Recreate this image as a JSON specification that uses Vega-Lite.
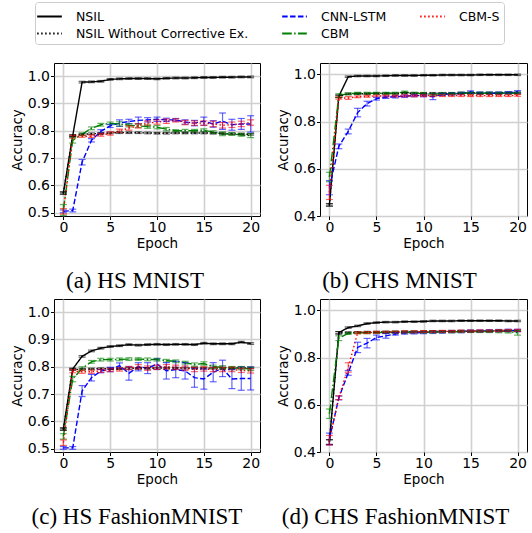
{
"$schema": "https://vega.github.io/schema/vega-lite/v6.json",
"padding": {"left": 9, "top": 1, "right": 0, "bottom": 0},
"config": {
  "view": {"stroke": "black", "strokeWidth": 1},
  "axis": {"domain": false, "tickColor": "black", "tickSize": 3.5, "labelFont": "DejaVu Sans", "labelFontSize": 14, "labelColor": "black", "labelPadding": 1, "titleFont": "DejaVu Sans", "titleFontSize": 13.5, "titleFontWeight": "normal", "titleColor": "black", "gridColor": "#d0d0d0", "gridWidth": 1.6},
  "axisX": {"titlePadding": 2},
  "axisY": {"titlePadding": 3},
  "title": {"font": "Liberation Serif", "fontSize": 23, "fontWeight": "normal", "color": "black", "orient": "bottom", "offset": 20}
},
"datasets": {"d": [
{"p":"a","m":"NSIL","e":0,"y":0.572,"s":0.004},{"p":"a","m":"NSIL","e":1,"y":0.782,"s":0.003},{"p":"a","m":"NSIL","e":2,"y":0.978,"s":0.003},{"p":"a","m":"NSIL","e":3,"y":0.979,"s":0.003},{"p":"a","m":"NSIL","e":4,"y":0.981,"s":0.003},{"p":"a","m":"NSIL","e":5,"y":0.988,"s":0.003},{"p":"a","m":"NSIL","e":6,"y":0.99,"s":0.003},{"p":"a","m":"NSIL","e":7,"y":0.991,"s":0.003},{"p":"a","m":"NSIL","e":8,"y":0.991,"s":0.003},{"p":"a","m":"NSIL","e":9,"y":0.991,"s":0.003},{"p":"a","m":"NSIL","e":10,"y":0.99,"s":0.003},{"p":"a","m":"NSIL","e":11,"y":0.992,"s":0.003},{"p":"a","m":"NSIL","e":12,"y":0.993,"s":0.003},{"p":"a","m":"NSIL","e":13,"y":0.993,"s":0.003},{"p":"a","m":"NSIL","e":14,"y":0.994,"s":0.003},{"p":"a","m":"NSIL","e":15,"y":0.995,"s":0.003},{"p":"a","m":"NSIL","e":16,"y":0.995,"s":0.003},{"p":"a","m":"NSIL","e":17,"y":0.996,"s":0.003},{"p":"a","m":"NSIL","e":18,"y":0.996,"s":0.003},{"p":"a","m":"NSIL","e":19,"y":0.997,"s":0.003},{"p":"a","m":"NSIL","e":20,"y":0.997,"s":0.003},
{"p":"a","m":"NSIL Without Corrective Ex.","e":0,"y":0.572,"s":0.004},{"p":"a","m":"NSIL Without Corrective Ex.","e":1,"y":0.782,"s":0.003},{"p":"a","m":"NSIL Without Corrective Ex.","e":2,"y":0.787,"s":0.003},{"p":"a","m":"NSIL Without Corrective Ex.","e":3,"y":0.789,"s":0.003},{"p":"a","m":"NSIL Without Corrective Ex.","e":4,"y":0.79,"s":0.003},{"p":"a","m":"NSIL Without Corrective Ex.","e":5,"y":0.792,"s":0.003},{"p":"a","m":"NSIL Without Corrective Ex.","e":6,"y":0.793,"s":0.003},{"p":"a","m":"NSIL Without Corrective Ex.","e":7,"y":0.793,"s":0.003},{"p":"a","m":"NSIL Without Corrective Ex.","e":8,"y":0.793,"s":0.003},{"p":"a","m":"NSIL Without Corrective Ex.","e":9,"y":0.792,"s":0.003},{"p":"a","m":"NSIL Without Corrective Ex.","e":10,"y":0.791,"s":0.003},{"p":"a","m":"NSIL Without Corrective Ex.","e":11,"y":0.791,"s":0.003},{"p":"a","m":"NSIL Without Corrective Ex.","e":12,"y":0.792,"s":0.003},{"p":"a","m":"NSIL Without Corrective Ex.","e":13,"y":0.792,"s":0.003},{"p":"a","m":"NSIL Without Corrective Ex.","e":14,"y":0.792,"s":0.003},{"p":"a","m":"NSIL Without Corrective Ex.","e":15,"y":0.792,"s":0.003},{"p":"a","m":"NSIL Without Corrective Ex.","e":16,"y":0.791,"s":0.003},{"p":"a","m":"NSIL Without Corrective Ex.","e":17,"y":0.79,"s":0.003},{"p":"a","m":"NSIL Without Corrective Ex.","e":18,"y":0.789,"s":0.003},{"p":"a","m":"NSIL Without Corrective Ex.","e":19,"y":0.788,"s":0.003},{"p":"a","m":"NSIL Without Corrective Ex.","e":20,"y":0.787,"s":0.003},
{"p":"a","m":"CNN-LSTM","e":0,"y":0.505,"s":0.005},{"p":"a","m":"CNN-LSTM","e":1,"y":0.508,"s":0.005},{"p":"a","m":"CNN-LSTM","e":2,"y":0.685,"s":0.01},{"p":"a","m":"CNN-LSTM","e":3,"y":0.765,"s":0.006},{"p":"a","m":"CNN-LSTM","e":4,"y":0.798,"s":0.006},{"p":"a","m":"CNN-LSTM","e":5,"y":0.818,"s":0.006},{"p":"a","m":"CNN-LSTM","e":6,"y":0.828,"s":0.012},{"p":"a","m":"CNN-LSTM","e":7,"y":0.834,"s":0.008},{"p":"a","m":"CNN-LSTM","e":8,"y":0.838,"s":0.012},{"p":"a","m":"CNN-LSTM","e":9,"y":0.84,"s":0.008},{"p":"a","m":"CNN-LSTM","e":10,"y":0.842,"s":0.008},{"p":"a","m":"CNN-LSTM","e":11,"y":0.84,"s":0.006},{"p":"a","m":"CNN-LSTM","e":12,"y":0.84,"s":0.005},{"p":"a","m":"CNN-LSTM","e":13,"y":0.832,"s":0.008},{"p":"a","m":"CNN-LSTM","e":14,"y":0.828,"s":0.01},{"p":"a","m":"CNN-LSTM","e":15,"y":0.835,"s":0.015},{"p":"a","m":"CNN-LSTM","e":16,"y":0.825,"s":0.012},{"p":"a","m":"CNN-LSTM","e":17,"y":0.835,"s":0.03},{"p":"a","m":"CNN-LSTM","e":18,"y":0.822,"s":0.02},{"p":"a","m":"CNN-LSTM","e":19,"y":0.825,"s":0.02},{"p":"a","m":"CNN-LSTM","e":20,"y":0.825,"s":0.03},
{"p":"a","m":"CBM","e":0,"y":0.51,"s":0.02},{"p":"a","m":"CBM","e":1,"y":0.765,"s":0.01},{"p":"a","m":"CBM","e":2,"y":0.787,"s":0.005},{"p":"a","m":"CBM","e":3,"y":0.809,"s":0.005},{"p":"a","m":"CBM","e":4,"y":0.822,"s":0.005},{"p":"a","m":"CBM","e":5,"y":0.827,"s":0.005},{"p":"a","m":"CBM","e":6,"y":0.825,"s":0.008},{"p":"a","m":"CBM","e":7,"y":0.82,"s":0.006},{"p":"a","m":"CBM","e":8,"y":0.818,"s":0.006},{"p":"a","m":"CBM","e":9,"y":0.815,"s":0.006},{"p":"a","m":"CBM","e":10,"y":0.813,"s":0.006},{"p":"a","m":"CBM","e":11,"y":0.806,"s":0.006},{"p":"a","m":"CBM","e":12,"y":0.8,"s":0.004},{"p":"a","m":"CBM","e":13,"y":0.8,"s":0.005},{"p":"a","m":"CBM","e":14,"y":0.8,"s":0.005},{"p":"a","m":"CBM","e":15,"y":0.802,"s":0.005},{"p":"a","m":"CBM","e":16,"y":0.795,"s":0.005},{"p":"a","m":"CBM","e":17,"y":0.789,"s":0.007},{"p":"a","m":"CBM","e":18,"y":0.788,"s":0.005},{"p":"a","m":"CBM","e":19,"y":0.785,"s":0.005},{"p":"a","m":"CBM","e":20,"y":0.782,"s":0.007},
{"p":"a","m":"CBM-S","e":0,"y":0.505,"s":0.01},{"p":"a","m":"CBM-S","e":1,"y":0.778,"s":0.005},{"p":"a","m":"CBM-S","e":2,"y":0.78,"s":0.004},{"p":"a","m":"CBM-S","e":3,"y":0.78,"s":0.005},{"p":"a","m":"CBM-S","e":4,"y":0.785,"s":0.005},{"p":"a","m":"CBM-S","e":5,"y":0.79,"s":0.006},{"p":"a","m":"CBM-S","e":6,"y":0.8,"s":0.006},{"p":"a","m":"CBM-S","e":7,"y":0.81,"s":0.008},{"p":"a","m":"CBM-S","e":8,"y":0.818,"s":0.008},{"p":"a","m":"CBM-S","e":9,"y":0.828,"s":0.008},{"p":"a","m":"CBM-S","e":10,"y":0.832,"s":0.008},{"p":"a","m":"CBM-S","e":11,"y":0.835,"s":0.008},{"p":"a","m":"CBM-S","e":12,"y":0.838,"s":0.006},{"p":"a","m":"CBM-S","e":13,"y":0.83,"s":0.008},{"p":"a","m":"CBM-S","e":14,"y":0.828,"s":0.008},{"p":"a","m":"CBM-S","e":15,"y":0.828,"s":0.008},{"p":"a","m":"CBM-S","e":16,"y":0.825,"s":0.01},{"p":"a","m":"CBM-S","e":17,"y":0.82,"s":0.01},{"p":"a","m":"CBM-S","e":18,"y":0.822,"s":0.01},{"p":"a","m":"CBM-S","e":19,"y":0.825,"s":0.01},{"p":"a","m":"CBM-S","e":20,"y":0.83,"s":0.01},
{"p":"b","m":"NSIL","e":0,"y":0.447,"s":0.005},{"p":"b","m":"NSIL","e":1,"y":0.907,"s":0.005},{"p":"b","m":"NSIL","e":2,"y":0.99,"s":0.003},{"p":"b","m":"NSIL","e":3,"y":0.993,"s":0.003},{"p":"b","m":"NSIL","e":4,"y":0.993,"s":0.003},{"p":"b","m":"NSIL","e":5,"y":0.993,"s":0.003},{"p":"b","m":"NSIL","e":6,"y":0.994,"s":0.003},{"p":"b","m":"NSIL","e":7,"y":0.995,"s":0.003},{"p":"b","m":"NSIL","e":8,"y":0.995,"s":0.003},{"p":"b","m":"NSIL","e":9,"y":0.995,"s":0.003},{"p":"b","m":"NSIL","e":10,"y":0.996,"s":0.003},{"p":"b","m":"NSIL","e":11,"y":0.996,"s":0.003},{"p":"b","m":"NSIL","e":12,"y":0.997,"s":0.003},{"p":"b","m":"NSIL","e":13,"y":0.997,"s":0.003},{"p":"b","m":"NSIL","e":14,"y":0.997,"s":0.003},{"p":"b","m":"NSIL","e":15,"y":0.997,"s":0.003},{"p":"b","m":"NSIL","e":16,"y":0.998,"s":0.003},{"p":"b","m":"NSIL","e":17,"y":0.998,"s":0.003},{"p":"b","m":"NSIL","e":18,"y":0.998,"s":0.003},{"p":"b","m":"NSIL","e":19,"y":0.998,"s":0.003},{"p":"b","m":"NSIL","e":20,"y":0.998,"s":0.003},
{"p":"b","m":"NSIL Without Corrective Ex.","e":0,"y":0.447,"s":0.005},{"p":"b","m":"NSIL Without Corrective Ex.","e":1,"y":0.907,"s":0.005},{"p":"b","m":"NSIL Without Corrective Ex.","e":2,"y":0.917,"s":0.003},{"p":"b","m":"NSIL Without Corrective Ex.","e":3,"y":0.918,"s":0.003},{"p":"b","m":"NSIL Without Corrective Ex.","e":4,"y":0.918,"s":0.003},{"p":"b","m":"NSIL Without Corrective Ex.","e":5,"y":0.919,"s":0.003},{"p":"b","m":"NSIL Without Corrective Ex.","e":6,"y":0.919,"s":0.003},{"p":"b","m":"NSIL Without Corrective Ex.","e":7,"y":0.919,"s":0.003},{"p":"b","m":"NSIL Without Corrective Ex.","e":8,"y":0.92,"s":0.003},{"p":"b","m":"NSIL Without Corrective Ex.","e":9,"y":0.92,"s":0.003},{"p":"b","m":"NSIL Without Corrective Ex.","e":10,"y":0.92,"s":0.003},{"p":"b","m":"NSIL Without Corrective Ex.","e":11,"y":0.92,"s":0.003},{"p":"b","m":"NSIL Without Corrective Ex.","e":12,"y":0.92,"s":0.003},{"p":"b","m":"NSIL Without Corrective Ex.","e":13,"y":0.92,"s":0.003},{"p":"b","m":"NSIL Without Corrective Ex.","e":14,"y":0.921,"s":0.003},{"p":"b","m":"NSIL Without Corrective Ex.","e":15,"y":0.921,"s":0.003},{"p":"b","m":"NSIL Without Corrective Ex.","e":16,"y":0.921,"s":0.003},{"p":"b","m":"NSIL Without Corrective Ex.","e":17,"y":0.921,"s":0.003},{"p":"b","m":"NSIL Without Corrective Ex.","e":18,"y":0.921,"s":0.003},{"p":"b","m":"NSIL Without Corrective Ex.","e":19,"y":0.922,"s":0.003},{"p":"b","m":"NSIL Without Corrective Ex.","e":20,"y":0.922,"s":0.003},
{"p":"b","m":"CNN-LSTM","e":0,"y":0.52,"s":0.03},{"p":"b","m":"CNN-LSTM","e":1,"y":0.695,"s":0.01},{"p":"b","m":"CNN-LSTM","e":2,"y":0.758,"s":0.01},{"p":"b","m":"CNN-LSTM","e":3,"y":0.838,"s":0.018},{"p":"b","m":"CNN-LSTM","e":4,"y":0.876,"s":0.01},{"p":"b","m":"CNN-LSTM","e":5,"y":0.897,"s":0.006},{"p":"b","m":"CNN-LSTM","e":6,"y":0.903,"s":0.005},{"p":"b","m":"CNN-LSTM","e":7,"y":0.905,"s":0.005},{"p":"b","m":"CNN-LSTM","e":8,"y":0.907,"s":0.005},{"p":"b","m":"CNN-LSTM","e":9,"y":0.91,"s":0.005},{"p":"b","m":"CNN-LSTM","e":10,"y":0.91,"s":0.005},{"p":"b","m":"CNN-LSTM","e":11,"y":0.905,"s":0.012},{"p":"b","m":"CNN-LSTM","e":12,"y":0.915,"s":0.005},{"p":"b","m":"CNN-LSTM","e":13,"y":0.917,"s":0.005},{"p":"b","m":"CNN-LSTM","e":14,"y":0.919,"s":0.005},{"p":"b","m":"CNN-LSTM","e":15,"y":0.925,"s":0.005},{"p":"b","m":"CNN-LSTM","e":16,"y":0.92,"s":0.005},{"p":"b","m":"CNN-LSTM","e":17,"y":0.92,"s":0.005},{"p":"b","m":"CNN-LSTM","e":18,"y":0.92,"s":0.005},{"p":"b","m":"CNN-LSTM","e":19,"y":0.922,"s":0.005},{"p":"b","m":"CNN-LSTM","e":20,"y":0.926,"s":0.005},
{"p":"b","m":"CBM","e":0,"y":0.565,"s":0.02},{"p":"b","m":"CBM","e":1,"y":0.91,"s":0.008},{"p":"b","m":"CBM","e":2,"y":0.918,"s":0.004},{"p":"b","m":"CBM","e":3,"y":0.92,"s":0.004},{"p":"b","m":"CBM","e":4,"y":0.92,"s":0.004},{"p":"b","m":"CBM","e":5,"y":0.92,"s":0.004},{"p":"b","m":"CBM","e":6,"y":0.92,"s":0.004},{"p":"b","m":"CBM","e":7,"y":0.92,"s":0.004},{"p":"b","m":"CBM","e":8,"y":0.925,"s":0.004},{"p":"b","m":"CBM","e":9,"y":0.92,"s":0.004},{"p":"b","m":"CBM","e":10,"y":0.918,"s":0.004},{"p":"b","m":"CBM","e":11,"y":0.915,"s":0.004},{"p":"b","m":"CBM","e":12,"y":0.918,"s":0.004},{"p":"b","m":"CBM","e":13,"y":0.918,"s":0.004},{"p":"b","m":"CBM","e":14,"y":0.92,"s":0.004},{"p":"b","m":"CBM","e":15,"y":0.92,"s":0.004},{"p":"b","m":"CBM","e":16,"y":0.92,"s":0.004},{"p":"b","m":"CBM","e":17,"y":0.92,"s":0.004},{"p":"b","m":"CBM","e":18,"y":0.92,"s":0.004},{"p":"b","m":"CBM","e":19,"y":0.92,"s":0.004},{"p":"b","m":"CBM","e":20,"y":0.92,"s":0.004},
{"p":"b","m":"CBM-S","e":0,"y":0.5,"s":0.03},{"p":"b","m":"CBM-S","e":1,"y":0.9,"s":0.005},{"p":"b","m":"CBM-S","e":2,"y":0.9,"s":0.006},{"p":"b","m":"CBM-S","e":3,"y":0.905,"s":0.004},{"p":"b","m":"CBM-S","e":4,"y":0.907,"s":0.004},{"p":"b","m":"CBM-S","e":5,"y":0.908,"s":0.004},{"p":"b","m":"CBM-S","e":6,"y":0.908,"s":0.004},{"p":"b","m":"CBM-S","e":7,"y":0.908,"s":0.004},{"p":"b","m":"CBM-S","e":8,"y":0.909,"s":0.004},{"p":"b","m":"CBM-S","e":9,"y":0.909,"s":0.004},{"p":"b","m":"CBM-S","e":10,"y":0.91,"s":0.004},{"p":"b","m":"CBM-S","e":11,"y":0.91,"s":0.004},{"p":"b","m":"CBM-S","e":12,"y":0.91,"s":0.004},{"p":"b","m":"CBM-S","e":13,"y":0.91,"s":0.004},{"p":"b","m":"CBM-S","e":14,"y":0.91,"s":0.004},{"p":"b","m":"CBM-S","e":15,"y":0.91,"s":0.004},{"p":"b","m":"CBM-S","e":16,"y":0.91,"s":0.004},{"p":"b","m":"CBM-S","e":17,"y":0.91,"s":0.004},{"p":"b","m":"CBM-S","e":18,"y":0.91,"s":0.004},{"p":"b","m":"CBM-S","e":19,"y":0.91,"s":0.004},{"p":"b","m":"CBM-S","e":20,"y":0.911,"s":0.004},
{"p":"c","m":"NSIL","e":0,"y":0.572,"s":0.004},{"p":"c","m":"NSIL","e":1,"y":0.792,"s":0.003},{"p":"c","m":"NSIL","e":2,"y":0.838,"s":0.003},{"p":"c","m":"NSIL","e":3,"y":0.858,"s":0.003},{"p":"c","m":"NSIL","e":4,"y":0.868,"s":0.003},{"p":"c","m":"NSIL","e":5,"y":0.874,"s":0.003},{"p":"c","m":"NSIL","e":6,"y":0.877,"s":0.003},{"p":"c","m":"NSIL","e":7,"y":0.881,"s":0.003},{"p":"c","m":"NSIL","e":8,"y":0.879,"s":0.003},{"p":"c","m":"NSIL","e":9,"y":0.881,"s":0.003},{"p":"c","m":"NSIL","e":10,"y":0.882,"s":0.003},{"p":"c","m":"NSIL","e":11,"y":0.881,"s":0.003},{"p":"c","m":"NSIL","e":12,"y":0.882,"s":0.003},{"p":"c","m":"NSIL","e":13,"y":0.882,"s":0.003},{"p":"c","m":"NSIL","e":14,"y":0.881,"s":0.003},{"p":"c","m":"NSIL","e":15,"y":0.886,"s":0.003},{"p":"c","m":"NSIL","e":16,"y":0.884,"s":0.003},{"p":"c","m":"NSIL","e":17,"y":0.884,"s":0.003},{"p":"c","m":"NSIL","e":18,"y":0.884,"s":0.003},{"p":"c","m":"NSIL","e":19,"y":0.89,"s":0.003},{"p":"c","m":"NSIL","e":20,"y":0.885,"s":0.003},
{"p":"c","m":"NSIL Without Corrective Ex.","e":0,"y":0.572,"s":0.004},{"p":"c","m":"NSIL Without Corrective Ex.","e":1,"y":0.79,"s":0.003},{"p":"c","m":"NSIL Without Corrective Ex.","e":2,"y":0.791,"s":0.003},{"p":"c","m":"NSIL Without Corrective Ex.","e":3,"y":0.792,"s":0.003},{"p":"c","m":"NSIL Without Corrective Ex.","e":4,"y":0.793,"s":0.003},{"p":"c","m":"NSIL Without Corrective Ex.","e":5,"y":0.793,"s":0.003},{"p":"c","m":"NSIL Without Corrective Ex.","e":6,"y":0.793,"s":0.003},{"p":"c","m":"NSIL Without Corrective Ex.","e":7,"y":0.794,"s":0.003},{"p":"c","m":"NSIL Without Corrective Ex.","e":8,"y":0.794,"s":0.003},{"p":"c","m":"NSIL Without Corrective Ex.","e":9,"y":0.794,"s":0.003},{"p":"c","m":"NSIL Without Corrective Ex.","e":10,"y":0.795,"s":0.003},{"p":"c","m":"NSIL Without Corrective Ex.","e":11,"y":0.795,"s":0.003},{"p":"c","m":"NSIL Without Corrective Ex.","e":12,"y":0.795,"s":0.003},{"p":"c","m":"NSIL Without Corrective Ex.","e":13,"y":0.795,"s":0.003},{"p":"c","m":"NSIL Without Corrective Ex.","e":14,"y":0.795,"s":0.003},{"p":"c","m":"NSIL Without Corrective Ex.","e":15,"y":0.795,"s":0.003},{"p":"c","m":"NSIL Without Corrective Ex.","e":16,"y":0.795,"s":0.003},{"p":"c","m":"NSIL Without Corrective Ex.","e":17,"y":0.795,"s":0.003},{"p":"c","m":"NSIL Without Corrective Ex.","e":18,"y":0.796,"s":0.003},{"p":"c","m":"NSIL Without Corrective Ex.","e":19,"y":0.796,"s":0.003},{"p":"c","m":"NSIL Without Corrective Ex.","e":20,"y":0.796,"s":0.003},
{"p":"c","m":"CNN-LSTM","e":0,"y":0.503,"s":0.005},{"p":"c","m":"CNN-LSTM","e":1,"y":0.503,"s":0.005},{"p":"c","m":"CNN-LSTM","e":2,"y":0.711,"s":0.02},{"p":"c","m":"CNN-LSTM","e":3,"y":0.76,"s":0.012},{"p":"c","m":"CNN-LSTM","e":4,"y":0.784,"s":0.006},{"p":"c","m":"CNN-LSTM","e":5,"y":0.79,"s":0.008},{"p":"c","m":"CNN-LSTM","e":6,"y":0.804,"s":0.01},{"p":"c","m":"CNN-LSTM","e":7,"y":0.776,"s":0.025},{"p":"c","m":"CNN-LSTM","e":8,"y":0.8,"s":0.015},{"p":"c","m":"CNN-LSTM","e":9,"y":0.795,"s":0.02},{"p":"c","m":"CNN-LSTM","e":10,"y":0.81,"s":0.02},{"p":"c","m":"CNN-LSTM","e":11,"y":0.785,"s":0.03},{"p":"c","m":"CNN-LSTM","e":12,"y":0.79,"s":0.03},{"p":"c","m":"CNN-LSTM","e":13,"y":0.785,"s":0.03},{"p":"c","m":"CNN-LSTM","e":14,"y":0.76,"s":0.035},{"p":"c","m":"CNN-LSTM","e":15,"y":0.755,"s":0.037},{"p":"c","m":"CNN-LSTM","e":16,"y":0.78,"s":0.035},{"p":"c","m":"CNN-LSTM","e":17,"y":0.794,"s":0.03},{"p":"c","m":"CNN-LSTM","e":18,"y":0.755,"s":0.035},{"p":"c","m":"CNN-LSTM","e":19,"y":0.757,"s":0.043},{"p":"c","m":"CNN-LSTM","e":20,"y":0.757,"s":0.042},
{"p":"c","m":"CBM","e":0,"y":0.545,"s":0.01},{"p":"c","m":"CBM","e":1,"y":0.755,"s":0.01},{"p":"c","m":"CBM","e":2,"y":0.794,"s":0.006},{"p":"c","m":"CBM","e":3,"y":0.818,"s":0.005},{"p":"c","m":"CBM","e":4,"y":0.826,"s":0.005},{"p":"c","m":"CBM","e":5,"y":0.826,"s":0.005},{"p":"c","m":"CBM","e":6,"y":0.827,"s":0.005},{"p":"c","m":"CBM","e":7,"y":0.828,"s":0.005},{"p":"c","m":"CBM","e":8,"y":0.828,"s":0.005},{"p":"c","m":"CBM","e":9,"y":0.827,"s":0.005},{"p":"c","m":"CBM","e":10,"y":0.826,"s":0.005},{"p":"c","m":"CBM","e":11,"y":0.822,"s":0.005},{"p":"c","m":"CBM","e":12,"y":0.82,"s":0.005},{"p":"c","m":"CBM","e":13,"y":0.815,"s":0.005},{"p":"c","m":"CBM","e":14,"y":0.808,"s":0.006},{"p":"c","m":"CBM","e":15,"y":0.812,"s":0.006},{"p":"c","m":"CBM","e":16,"y":0.8,"s":0.006},{"p":"c","m":"CBM","e":17,"y":0.798,"s":0.006},{"p":"c","m":"CBM","e":18,"y":0.795,"s":0.006},{"p":"c","m":"CBM","e":19,"y":0.795,"s":0.006},{"p":"c","m":"CBM","e":20,"y":0.792,"s":0.006},
{"p":"c","m":"CBM-S","e":0,"y":0.522,"s":0.01},{"p":"c","m":"CBM-S","e":1,"y":0.784,"s":0.006},{"p":"c","m":"CBM-S","e":2,"y":0.782,"s":0.006},{"p":"c","m":"CBM-S","e":3,"y":0.782,"s":0.006},{"p":"c","m":"CBM-S","e":4,"y":0.785,"s":0.006},{"p":"c","m":"CBM-S","e":5,"y":0.788,"s":0.006},{"p":"c","m":"CBM-S","e":6,"y":0.79,"s":0.006},{"p":"c","m":"CBM-S","e":7,"y":0.795,"s":0.006},{"p":"c","m":"CBM-S","e":8,"y":0.8,"s":0.008},{"p":"c","m":"CBM-S","e":9,"y":0.795,"s":0.008},{"p":"c","m":"CBM-S","e":10,"y":0.798,"s":0.008},{"p":"c","m":"CBM-S","e":11,"y":0.8,"s":0.008},{"p":"c","m":"CBM-S","e":12,"y":0.798,"s":0.008},{"p":"c","m":"CBM-S","e":13,"y":0.795,"s":0.008},{"p":"c","m":"CBM-S","e":14,"y":0.79,"s":0.008},{"p":"c","m":"CBM-S","e":15,"y":0.792,"s":0.008},{"p":"c","m":"CBM-S","e":16,"y":0.79,"s":0.008},{"p":"c","m":"CBM-S","e":17,"y":0.79,"s":0.008},{"p":"c","m":"CBM-S","e":18,"y":0.79,"s":0.008},{"p":"c","m":"CBM-S","e":19,"y":0.787,"s":0.008},{"p":"c","m":"CBM-S","e":20,"y":0.785,"s":0.008},
{"p":"d","m":"NSIL","e":0,"y":0.442,"s":0.01},{"p":"d","m":"NSIL","e":1,"y":0.905,"s":0.005},{"p":"d","m":"NSIL","e":2,"y":0.927,"s":0.003},{"p":"d","m":"NSIL","e":3,"y":0.934,"s":0.003},{"p":"d","m":"NSIL","e":4,"y":0.944,"s":0.003},{"p":"d","m":"NSIL","e":5,"y":0.948,"s":0.003},{"p":"d","m":"NSIL","e":6,"y":0.95,"s":0.003},{"p":"d","m":"NSIL","e":7,"y":0.95,"s":0.003},{"p":"d","m":"NSIL","e":8,"y":0.952,"s":0.003},{"p":"d","m":"NSIL","e":9,"y":0.952,"s":0.003},{"p":"d","m":"NSIL","e":10,"y":0.953,"s":0.003},{"p":"d","m":"NSIL","e":11,"y":0.955,"s":0.003},{"p":"d","m":"NSIL","e":12,"y":0.955,"s":0.003},{"p":"d","m":"NSIL","e":13,"y":0.955,"s":0.003},{"p":"d","m":"NSIL","e":14,"y":0.956,"s":0.003},{"p":"d","m":"NSIL","e":15,"y":0.956,"s":0.003},{"p":"d","m":"NSIL","e":16,"y":0.956,"s":0.003},{"p":"d","m":"NSIL","e":17,"y":0.956,"s":0.003},{"p":"d","m":"NSIL","e":18,"y":0.956,"s":0.003},{"p":"d","m":"NSIL","e":19,"y":0.955,"s":0.003},{"p":"d","m":"NSIL","e":20,"y":0.955,"s":0.003},
{"p":"d","m":"NSIL Without Corrective Ex.","e":0,"y":0.442,"s":0.01},{"p":"d","m":"NSIL Without Corrective Ex.","e":1,"y":0.905,"s":0.005},{"p":"d","m":"NSIL Without Corrective Ex.","e":2,"y":0.906,"s":0.003},{"p":"d","m":"NSIL Without Corrective Ex.","e":3,"y":0.907,"s":0.003},{"p":"d","m":"NSIL Without Corrective Ex.","e":4,"y":0.908,"s":0.003},{"p":"d","m":"NSIL Without Corrective Ex.","e":5,"y":0.908,"s":0.003},{"p":"d","m":"NSIL Without Corrective Ex.","e":6,"y":0.909,"s":0.003},{"p":"d","m":"NSIL Without Corrective Ex.","e":7,"y":0.909,"s":0.003},{"p":"d","m":"NSIL Without Corrective Ex.","e":8,"y":0.91,"s":0.003},{"p":"d","m":"NSIL Without Corrective Ex.","e":9,"y":0.91,"s":0.003},{"p":"d","m":"NSIL Without Corrective Ex.","e":10,"y":0.91,"s":0.003},{"p":"d","m":"NSIL Without Corrective Ex.","e":11,"y":0.911,"s":0.003},{"p":"d","m":"NSIL Without Corrective Ex.","e":12,"y":0.911,"s":0.003},{"p":"d","m":"NSIL Without Corrective Ex.","e":13,"y":0.911,"s":0.003},{"p":"d","m":"NSIL Without Corrective Ex.","e":14,"y":0.912,"s":0.003},{"p":"d","m":"NSIL Without Corrective Ex.","e":15,"y":0.912,"s":0.003},{"p":"d","m":"NSIL Without Corrective Ex.","e":16,"y":0.912,"s":0.003},{"p":"d","m":"NSIL Without Corrective Ex.","e":17,"y":0.913,"s":0.003},{"p":"d","m":"NSIL Without Corrective Ex.","e":18,"y":0.913,"s":0.003},{"p":"d","m":"NSIL Without Corrective Ex.","e":19,"y":0.913,"s":0.003},{"p":"d","m":"NSIL Without Corrective Ex.","e":20,"y":0.913,"s":0.003},
{"p":"d","m":"CNN-LSTM","e":0,"y":0.455,"s":0.025},{"p":"d","m":"CNN-LSTM","e":1,"y":0.629,"s":0.008},{"p":"d","m":"CNN-LSTM","e":2,"y":0.735,"s":0.01},{"p":"d","m":"CNN-LSTM","e":3,"y":0.843,"s":0.022},{"p":"d","m":"CNN-LSTM","e":4,"y":0.861,"s":0.02},{"p":"d","m":"CNN-LSTM","e":5,"y":0.885,"s":0.01},{"p":"d","m":"CNN-LSTM","e":6,"y":0.892,"s":0.01},{"p":"d","m":"CNN-LSTM","e":7,"y":0.9,"s":0.005},{"p":"d","m":"CNN-LSTM","e":8,"y":0.904,"s":0.005},{"p":"d","m":"CNN-LSTM","e":9,"y":0.905,"s":0.005},{"p":"d","m":"CNN-LSTM","e":10,"y":0.906,"s":0.005},{"p":"d","m":"CNN-LSTM","e":11,"y":0.907,"s":0.005},{"p":"d","m":"CNN-LSTM","e":12,"y":0.908,"s":0.005},{"p":"d","m":"CNN-LSTM","e":13,"y":0.91,"s":0.005},{"p":"d","m":"CNN-LSTM","e":14,"y":0.91,"s":0.005},{"p":"d","m":"CNN-LSTM","e":15,"y":0.912,"s":0.005},{"p":"d","m":"CNN-LSTM","e":16,"y":0.912,"s":0.005},{"p":"d","m":"CNN-LSTM","e":17,"y":0.913,"s":0.005},{"p":"d","m":"CNN-LSTM","e":18,"y":0.914,"s":0.005},{"p":"d","m":"CNN-LSTM","e":19,"y":0.915,"s":0.005},{"p":"d","m":"CNN-LSTM","e":20,"y":0.915,"s":0.005},
{"p":"d","m":"CBM","e":0,"y":0.562,"s":0.02},{"p":"d","m":"CBM","e":1,"y":0.882,"s":0.01},{"p":"d","m":"CBM","e":2,"y":0.902,"s":0.004},{"p":"d","m":"CBM","e":3,"y":0.905,"s":0.004},{"p":"d","m":"CBM","e":4,"y":0.905,"s":0.004},{"p":"d","m":"CBM","e":5,"y":0.906,"s":0.004},{"p":"d","m":"CBM","e":6,"y":0.906,"s":0.004},{"p":"d","m":"CBM","e":7,"y":0.907,"s":0.004},{"p":"d","m":"CBM","e":8,"y":0.907,"s":0.004},{"p":"d","m":"CBM","e":9,"y":0.908,"s":0.004},{"p":"d","m":"CBM","e":10,"y":0.908,"s":0.004},{"p":"d","m":"CBM","e":11,"y":0.908,"s":0.004},{"p":"d","m":"CBM","e":12,"y":0.909,"s":0.004},{"p":"d","m":"CBM","e":13,"y":0.909,"s":0.004},{"p":"d","m":"CBM","e":14,"y":0.91,"s":0.004},{"p":"d","m":"CBM","e":15,"y":0.91,"s":0.004},{"p":"d","m":"CBM","e":16,"y":0.91,"s":0.004},{"p":"d","m":"CBM","e":17,"y":0.91,"s":0.004},{"p":"d","m":"CBM","e":18,"y":0.911,"s":0.006},{"p":"d","m":"CBM","e":19,"y":0.91,"s":0.006},{"p":"d","m":"CBM","e":20,"y":0.905,"s":0.01},
{"p":"d","m":"CBM-S","e":0,"y":0.45,"s":0.02},{"p":"d","m":"CBM-S","e":1,"y":0.63,"s":0.008},{"p":"d","m":"CBM-S","e":2,"y":0.758,"s":0.02},{"p":"d","m":"CBM-S","e":3,"y":0.905,"s":0.004},{"p":"d","m":"CBM-S","e":4,"y":0.906,"s":0.004},{"p":"d","m":"CBM-S","e":5,"y":0.907,"s":0.004},{"p":"d","m":"CBM-S","e":6,"y":0.907,"s":0.004},{"p":"d","m":"CBM-S","e":7,"y":0.908,"s":0.004},{"p":"d","m":"CBM-S","e":8,"y":0.909,"s":0.004},{"p":"d","m":"CBM-S","e":9,"y":0.909,"s":0.004},{"p":"d","m":"CBM-S","e":10,"y":0.91,"s":0.004},{"p":"d","m":"CBM-S","e":11,"y":0.91,"s":0.004},{"p":"d","m":"CBM-S","e":12,"y":0.911,"s":0.004},{"p":"d","m":"CBM-S","e":13,"y":0.911,"s":0.004},{"p":"d","m":"CBM-S","e":14,"y":0.912,"s":0.004},{"p":"d","m":"CBM-S","e":15,"y":0.912,"s":0.004},{"p":"d","m":"CBM-S","e":16,"y":0.913,"s":0.004},{"p":"d","m":"CBM-S","e":17,"y":0.913,"s":0.004},{"p":"d","m":"CBM-S","e":18,"y":0.914,"s":0.004},{"p":"d","m":"CBM-S","e":19,"y":0.915,"s":0.004},{"p":"d","m":"CBM-S","e":20,"y":0.915,"s":0.004}
]},
"columns": 2,
"spacing": {"column": 14, "row": 4},
"resolve": {"scale": {"x": "independent", "y": "independent", "color": "shared", "strokeDash": "shared"}},
"concat": [
 {"width": 206, "height": 153, "data": {"name": "d"}, "transform": [{"filter": "datum.p == 'a'"}],
  "title": {"text": "(a) HS MNIST", "dx": -22},
  "encoding": {
   "x": {"field": "e", "type": "quantitative", "title": "Epoch", "scale": {"domain": [-1, 21], "nice": false}, "axis": {"values": [0, 5, 10, 15, 20]}},
   "y": {"field": "y", "type": "quantitative", "title": "Accuracy", "scale": {"domain": [0.488, 1.048], "nice": false, "zero": false}, "axis": {"values": [0.5, 0.6, 0.7, 0.8, 0.9, 1.0], "format": ".1f"}}},
  "layer": [
   {"mark": {"type": "line", "strokeWidth": 1.4, "clip": true},
    "encoding": {
     "color": {"field": "m", "type": "nominal", "scale": {"domain": ["NSIL", "NSIL Without Corrective Ex.", "CNN-LSTM", "CBM", "CBM-S"], "range": ["#000000", "#000000", "#0000ff", "#008000", "#ff0000"]},
       "legend": {"orient": "none", "legendX": -19, "legendY": -61, "columns": 3, "title": null, "symbolType": "M-1.3,0H1.3", "symbolSize": 361, "symbolStrokeWidth": 1.8, "labelFont": "DejaVu Sans", "labelFontSize": 12.5, "labelColor": "black", "labelOffset": 16, "labelLimit": 400, "rowPadding": 0, "columnPadding": 29, "padding": 4, "strokeColor": "#cccccc", "fillColor": "white", "cornerRadius": 3}},
     "strokeDash": {"field": "m", "type": "nominal", "scale": {"domain": ["NSIL", "NSIL Without Corrective Ex.", "CNN-LSTM", "CBM", "CBM-S"], "range": [[1, 0], [1.5, 2.5], [5.5, 2.4], [9.6, 2.4, 1.5, 2.4], [1.5, 2.5]]}}}},
   {"mark": {"type": "errorbar", "ticks": {"size": 7, "opacity": 0.6}, "rule": {"opacity": 0.6}, "thickness": 1.2, "clip": true},
    "encoding": {"yError": {"field": "s"}, "color": {"field": "m", "type": "nominal", "legend": null}}}
  ]},
 {"width": 207, "height": 153, "data": {"name": "d"}, "transform": [{"filter": "datum.p == 'b'"}],
  "title": {"text": "(b) CHS MNIST", "dx": -24},
  "encoding": {
   "x": {"field": "e", "type": "quantitative", "title": "Epoch", "scale": {"domain": [-1, 21], "nice": false}, "axis": {"values": [0, 5, 10, 15, 20]}},
   "y": {"field": "y", "type": "quantitative", "title": "Accuracy", "scale": {"domain": [0.4, 1.048], "nice": false, "zero": false}, "axis": {"values": [0.4, 0.6, 0.8, 1.0], "format": ".1f"}}},
  "layer": [
   {"mark": {"type": "line", "strokeWidth": 1.4, "clip": true},
    "encoding": {"color": {"field": "m", "type": "nominal"}, "strokeDash": {"field": "m", "type": "nominal"}}},
   {"mark": {"type": "errorbar", "ticks": {"size": 7, "opacity": 0.6}, "rule": {"opacity": 0.6}, "thickness": 1.2, "clip": true},
    "encoding": {"yError": {"field": "s"}, "color": {"field": "m", "type": "nominal", "legend": null}}}
  ]},
 {"width": 206, "height": 153, "data": {"name": "d"}, "transform": [{"filter": "datum.p == 'c'"}],
  "title": {"text": "(c) HS FashionMNIST", "dx": -20},
  "encoding": {
   "x": {"field": "e", "type": "quantitative", "title": "Epoch", "scale": {"domain": [-1, 21], "nice": false}, "axis": {"values": [0, 5, 10, 15, 20]}},
   "y": {"field": "y", "type": "quantitative", "title": "Accuracy", "scale": {"domain": [0.488, 1.048], "nice": false, "zero": false}, "axis": {"values": [0.5, 0.6, 0.7, 0.8, 0.9, 1.0], "format": ".1f"}}},
  "layer": [
   {"mark": {"type": "line", "strokeWidth": 1.4, "clip": true},
    "encoding": {"color": {"field": "m", "type": "nominal"}, "strokeDash": {"field": "m", "type": "nominal"}}},
   {"mark": {"type": "errorbar", "ticks": {"size": 7, "opacity": 0.6}, "rule": {"opacity": 0.6}, "thickness": 1.2, "clip": true},
    "encoding": {"yError": {"field": "s"}, "color": {"field": "m", "type": "nominal", "legend": null}}}
  ]},
 {"width": 207, "height": 153, "data": {"name": "d"}, "transform": [{"filter": "datum.p == 'd'"}],
  "title": {"text": "(d) CHS FashionMNIST", "dx": -28},
  "encoding": {
   "x": {"field": "e", "type": "quantitative", "title": "Epoch", "scale": {"domain": [-1, 21], "nice": false}, "axis": {"values": [0, 5, 10, 15, 20]}},
   "y": {"field": "y", "type": "quantitative", "title": "Accuracy", "scale": {"domain": [0.4, 1.048], "nice": false, "zero": false}, "axis": {"values": [0.4, 0.6, 0.8, 1.0], "format": ".1f"}}},
  "layer": [
   {"mark": {"type": "line", "strokeWidth": 1.4, "clip": true},
    "encoding": {"color": {"field": "m", "type": "nominal"}, "strokeDash": {"field": "m", "type": "nominal"}}},
   {"mark": {"type": "errorbar", "ticks": {"size": 7, "opacity": 0.6}, "rule": {"opacity": 0.6}, "thickness": 1.2, "clip": true},
    "encoding": {"yError": {"field": "s"}, "color": {"field": "m", "type": "nominal", "legend": null}}}
  ]}
]
}
